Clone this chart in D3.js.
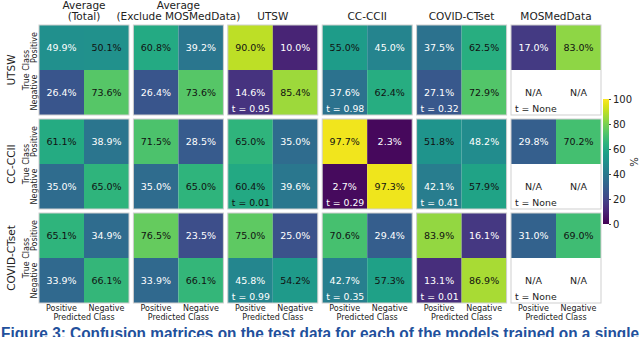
<!DOCTYPE html>
<html>
<head>
<meta charset="utf-8">
<script src="https://cdn.jsdelivr.net/npm/d3@7"></script>
<style>
  body { margin: 0; background: #fff; }
  svg { display: block; }
  text { font-family: "DejaVu Sans", sans-serif; }
</style>
</head>
<body>
<svg id="chart" width="640" height="337"></svg>
<script>
const trainSets = ["UTSW", "CC-CCII", "COVID-CTset"];
const testSets = [["Average", "(Total)"], ["Average", "(Exclude MOSMedData)"], ["UTSW"], ["CC-CCII"], ["COVID-CTset"], ["MOSMedData"]];
const classes = ["Positive", "Negative"];

// per test set: [pos->pos, pos->neg, neg->pos, neg->neg] in %
const utswValues = [
    [49.9, 50.1, 26.4, 73.6], [60.8, 39.2, 26.4, 73.6], [90.0, 10.0, 14.6, 85.4],
    [55.0, 45.0, 37.6, 62.4], [37.5, 62.5, 27.1, 72.9], [17.0, 83.0, null, null]
];
const ccciiValues = [
    [61.1, 38.9, 35.0, 65.0], [71.5, 28.5, 35.0, 65.0], [65.0, 35.0, 60.4, 39.6],
    [97.7, 2.3, 2.7, 97.3], [51.8, 48.2, 42.1, 57.9], [29.8, 70.2, null, null]
];
const ctsetValues = [
    [65.1, 34.9, 33.9, 66.1], [76.5, 23.5, 33.9, 66.1], [75.0, 25.0, 45.8, 54.2],
    [70.6, 29.4, 42.7, 57.3], [83.9, 16.1, 13.1, 86.9], [31.0, 69.0, null, null]
];
const thresholds = [
    [null, null, "0.95", "0.98", "0.32", "None"],
    [null, null, "0.01", "0.29", "0.41", "None"],
    [null, null, "0.99", "0.35", "0.01", "None"]
];
const allValues = [utswValues, ccciiValues, ctsetValues];
const cbarTicks = [0, 20, 40, 60, 80, 100];
const caption = "Figure 3: Confusion matrices on the test data for each of the models trained on a single";

const svg = d3.select("#chart");

const colX = d3.scaleBand().domain(d3.range(testSets.length)).range([39, 601]).paddingInner(0.0466);
const rowY = d3.scaleBand().domain(d3.range(trainSets.length)).range([25, 303]).paddingInner(0.0426);
const cx = d3.scaleBand().domain(classes).range([0, colX.bandwidth()]);
const cy = d3.scaleBand().domain(classes).range([0, rowY.bandwidth()]);
const color = d3.scaleSequential(d3.interpolateViridis).domain([0, 100]);

function textColor(v) {
    if (v == null) return "#222";
    return v >= 50 ? "#111" : "#fff";
}

// column titles
testSets.forEach((lines, j) => {
    const t = svg.append("text")
        .attr("x", colX(j) + colX.bandwidth() / 2)
        .attr("text-anchor", "middle")
        .attr("font-size", 10.5)
        .attr("fill", "#222");
    lines.forEach((line, k) => {
        t.append("tspan")
            .attr("x", colX(j) + colX.bandwidth() / 2)
            .attr("y", 20 - (lines.length - 1 - k) * 11.5)
            .text(line);
    });
});

allValues.forEach((rowVals, i) => {
    const y0 = rowY(i);

    // row title + y axis labels
    const midY = y0 + rowY.bandwidth() / 2;
    svg.append("text")
        .attr("transform", `translate(11,${midY}) rotate(-90)`)
        .attr("text-anchor", "middle")
        .attr("dominant-baseline", "central")
        .attr("font-size", 10.5)
        .attr("fill", "#222")
        .text(trainSets[i]);
    svg.append("text")
        .attr("transform", `translate(26,${midY}) rotate(-90)`)
        .attr("text-anchor", "middle")
        .attr("dominant-baseline", "central")
        .attr("font-size", 8)
        .attr("fill", "#222")
        .text("True Class");
    classes.forEach(c => {
        svg.append("text")
            .attr("transform", `translate(34,${y0 + cy(c) + cy.bandwidth() / 2}) rotate(-90)`)
            .attr("text-anchor", "middle")
            .attr("dominant-baseline", "central")
            .attr("font-size", 8)
            .attr("fill", "#222")
            .text(c);
    });

    rowVals.forEach((vals, j) => {
        const g = svg.append("g").attr("transform", `translate(${colX(j)},${y0})`);
        const cells = [];
        classes.forEach((tc, a) => classes.forEach((pc, b) => {
            cells.push({ tc, pc, v: vals[a * 2 + b] });
        }));

        g.selectAll("rect.cell").data(cells).join("rect")
            .attr("class", "cell")
            .attr("x", d => cx(d.pc))
            .attr("y", d => cy(d.tc))
            .attr("width", cx.bandwidth())
            .attr("height", cy.bandwidth())
            .attr("fill", d => d.v == null ? "#fff" : color(d.v));

        g.selectAll("text.val").data(cells).join("text")
            .attr("class", "val")
            .attr("x", d => cx(d.pc) + cx.bandwidth() / 2)
            .attr("y", d => cy(d.tc) + cy.bandwidth() / 2)
            .attr("text-anchor", "middle")
            .attr("dominant-baseline", "central")
            .attr("font-size", 9.5)
            .attr("fill", d => textColor(d.v))
            .text(d => d.v == null ? "N/A" : d.v.toFixed(1) + "%");

        g.append("rect")
            .attr("width", colX.bandwidth())
            .attr("height", rowY.bandwidth())
            .attr("fill", "none")
            .attr("stroke", "#cfcfcf")
            .attr("stroke-width", 1);

        const th = thresholds[i][j];
        if (th != null) {
            g.append("text")
                .attr("x", 4)
                .attr("y", rowY.bandwidth() - 3)
                .attr("font-size", 9.3)
                .attr("fill", textColor(vals[2]))
                .text("t = " + th);
        }

        if (i === allValues.length - 1) {
            classes.forEach(c => {
                g.append("text")
                    .attr("x", cx(c) + cx.bandwidth() / 2)
                    .attr("y", rowY.bandwidth() + 8)
                    .attr("text-anchor", "middle")
                    .attr("font-size", 8)
                    .attr("fill", "#222")
                    .text(c);
            });
            g.append("text")
                .attr("x", colX.bandwidth() / 2)
                .attr("y", rowY.bandwidth() + 17)
                .attr("text-anchor", "middle")
                .attr("font-size", 8)
                .attr("fill", "#222")
                .text("Predicted Class");
        }
    });
});

// colorbar
const cbarY = d3.scaleLinear().domain([0, 100]).range([224, 99]);
const grad = svg.append("defs").append("linearGradient")
    .attr("id", "viridis").attr("x1", 0).attr("y1", 1).attr("x2", 0).attr("y2", 0);
d3.range(0, 1.0001, 0.05).forEach(t => {
    grad.append("stop").attr("offset", t).attr("stop-color", d3.interpolateViridis(t));
});
svg.append("rect")
    .attr("x", 603).attr("y", cbarY(100))
    .attr("width", 6).attr("height", cbarY(0) - cbarY(100))
    .attr("fill", "url(#viridis)");
const cbarAxis = svg.append("g")
    .attr("transform", "translate(609,0)")
    .call(d3.axisRight(cbarY).tickValues(cbarTicks).tickSize(2).tickPadding(2));
cbarAxis.select(".domain").remove();
cbarAxis.selectAll("text").attr("font-size", 10).attr("fill", "#222").attr("font-family", "DejaVu Sans, sans-serif");
cbarAxis.selectAll("line").attr("stroke", "#444");
svg.append("text")
    .attr("transform", "translate(634,162) rotate(-90)")
    .attr("text-anchor", "middle")
    .attr("dominant-baseline", "central")
    .attr("font-size", 10)
    .attr("fill", "#222")
    .text("%");

// caption (cut off by the bottom edge)
svg.append("text")
    .attr("x", 1)
    .attr("y", 339)
    .attr("font-family", "Liberation Sans, Arial, sans-serif")
    .attr("font-weight", "bold")
    .attr("font-size", 16)
    .attr("fill", "#22509c")
    .attr("textLength", 638)
    .attr("lengthAdjust", "spacingAndGlyphs")
    .style("font-family", "'Liberation Sans', Arial, sans-serif")
    .text(caption);
</script>
</body>
</html>
